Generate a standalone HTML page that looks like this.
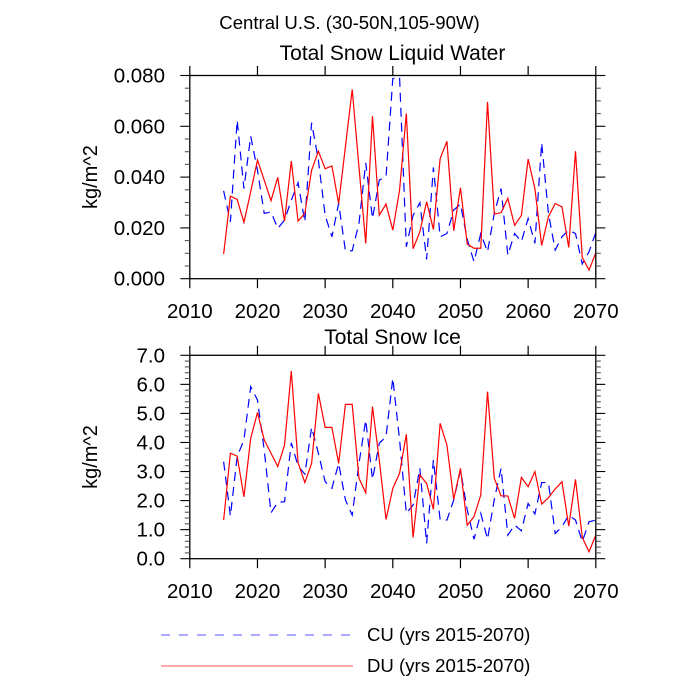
<!DOCTYPE html>
<html><head><meta charset="utf-8">
<style>
html,body{margin:0;padding:0;background:#fff;}
svg{display:block;font-family:"Liberation Sans",Arial,sans-serif;}
</style></head>
<body>
<svg id="chart" width="700" height="700" viewBox="0 0 700 700" xmlns="http://www.w3.org/2000/svg">
<text x="349.5" y="29" font-size="18.6" text-anchor="middle" fill="#000">Central U.S. (30-50N,105-90W)</text>
<text x="392.5" y="60" font-size="21" text-anchor="middle" fill="#000">Total Snow Liquid Water</text>
<text x="392.5" y="344" font-size="21" text-anchor="middle" fill="#000">Total Snow Ice</text>
<g id="top"></g>
<g id="bot"></g>
<g>
<line x1="161" y1="635" x2="353" y2="635" stroke="#7777ff" stroke-width="1.2" stroke-dasharray="9,9"/>
<text x="367" y="641" font-size="18.6" fill="#000">CU (yrs 2015-2070)</text>
<line x1="161" y1="666" x2="353" y2="666" stroke="#ff7777" stroke-width="1.2"/>
<text x="367" y="672" font-size="18.6" fill="#000">DU (yrs 2015-2070)</text>
</g>
</svg>
<script>
const years = [];
for (let y = 2015; y <= 2070; y++) years.push(y);
const swlDU = [0.0097,0.0325,0.0312,0.0222,0.0342,0.0467,0.0388,0.0307,0.0399,0.0227,0.0463,0.0227,0.0257,0.0427,0.0502,0.0433,0.0444,0.0296,0.052,0.0745,0.044,0.0139,0.064,0.025,0.0294,0.0191,0.0349,0.065,0.0118,0.0185,0.0303,0.0194,0.0473,0.0541,0.0189,0.0358,0.0136,0.012,0.012,0.0696,0.0254,0.026,0.0316,0.021,0.0249,0.0471,0.0355,0.0131,0.0244,0.0296,0.0283,0.0123,0.0502,0.0084,0.0034,0.0102];
const swlCU = [0.0346,0.0224,0.0624,0.0355,0.0561,0.0427,0.0257,0.0263,0.0198,0.0231,0.0309,0.0378,0.0224,0.0614,0.0467,0.025,0.0165,0.0296,0.011,0.011,0.0218,0.0456,0.0237,0.0388,0.0401,0.0788,0.0794,0.0126,0.025,0.0299,0.0076,0.0438,0.0165,0.0178,0.027,0.0294,0.0155,0.0067,0.0178,0.0106,0.0257,0.0355,0.0093,0.0178,0.0146,0.0237,0.0139,0.0535,0.0257,0.0113,0.0165,0.0191,0.0178,0.0058,0.0106,0.0182];
const iceDU = [1.33,3.63,3.53,2.13,4.14,5.03,4.09,3.63,3.17,3.91,6.46,3.30,2.62,3.28,5.69,4.52,4.52,3.28,5.31,5.31,2.77,2.27,5.23,3.40,1.35,2.42,2.94,4.28,0.73,2.88,2.59,1.70,4.66,3.91,2.04,3.11,1.15,1.45,2.19,5.75,2.77,2.16,2.16,1.39,2.80,2.48,3.00,1.88,2.10,2.40,2.65,1.12,2.73,0.73,0.24,0.81];
const iceCU = [3.34,1.47,3.51,4.09,5.92,5.46,3.74,1.58,1.94,1.96,3.99,3.19,2.91,4.52,3.63,2.65,2.42,3.28,2.02,1.50,3.28,4.77,2.73,3.97,4.20,6.21,4.09,1.56,1.85,3.11,0.53,3.40,1.33,1.33,2.02,3.05,1.68,0.67,1.56,0.67,2.04,3.11,0.81,1.16,0.96,1.90,1.54,2.62,2.62,0.87,1.10,1.50,1.33,0.59,1.27,1.33];
const xTicks = [2010,2020,2030,2040,2050,2060,2070];
const topYTicks = [0,0.02,0.04,0.06,0.08];
const topYLabels = ["0.000","0.020","0.040","0.060","0.080"];
const botYTicks = [0,1,2,3,4,5,6,7];
const botYLabels = ["0.0","1.0","2.0","3.0","4.0","5.0","6.0","7.0"];

const NS = "http://www.w3.org/2000/svg";
const L = 189.8, R = 595.8;
function mk(tag, attrs, parent) {
  const e = document.createElementNS(NS, tag);
  for (const k in attrs) e.setAttribute(k, attrs[k]);
  parent.appendChild(e);
  return e;
}
function panel(g, top, bot, ymax, ticks, labels, minorStep, du, cu, prefix) {
  const xs = v => L + (v - 2010) / 60 * (R - L);
  const ys = v => bot - v / ymax * (bot - top);
  const ax = "#000";
  const ptsCU = years.map((y, i) => xs(y).toFixed(2) + "," + ys(cu[i]).toFixed(2)).join(" ");
  const ptsDU = years.map((y, i) => xs(y).toFixed(2) + "," + ys(du[i]).toFixed(2)).join(" ");
  const pc = mk("polyline", {points: ptsCU, fill: "none", stroke: "#0000ff", "stroke-width": 1.2, "stroke-dasharray": "9,6"}, g);
  
  
  const pd = mk("polyline", {points: ptsDU, fill: "none", stroke: "#ff0000", "stroke-width": 1.2}, g);
  
  
  const fr = mk("rect", {x: L, y: top, width: R - L, height: bot - top, fill: "none", stroke: ax, "stroke-width": 1.3}, g);
  
  
  xTicks.forEach(t => {
    const x = xs(t);
    mk("line", {x1: x, y1: top, x2: x, y2: top - 9.5, stroke: ax, "stroke-width": 1.2}, g);
    mk("line", {x1: x, y1: bot, x2: x, y2: bot + 9.5, stroke: ax, "stroke-width": 1.2}, g);
    const tx = mk("text", {x: x, y: bot + 39.5, "font-size": 20.5, "text-anchor": "middle", fill: "#000"}, g);
    tx.textContent = t;
    
    
  });
  for (let v = 0; v <= ymax + 1e-9; v += minorStep) {
    const y = ys(v);
    const major = ticks.some(t => Math.abs(t - v) < minorStep / 10);
    const len = major ? 9.5 : 5;
    mk("line", {x1: L, y1: y, x2: L - len, y2: y, stroke: major ? ax : "#555", "stroke-width": 1.1}, g);
    mk("line", {x1: R, y1: y, x2: R + len, y2: y, stroke: major ? ax : "#555", "stroke-width": 1.1}, g);
  }
  ticks.forEach((t, i) => {
    const tl = mk("text", {x: 165, y: ys(t) + 7, "font-size": 20.5, "text-anchor": "end", fill: "#000"}, g);
    tl.textContent = labels[i];
    
    
  });
  const cy = (top + bot) / 2;
  const yt = mk("text", {x: 0, y: 0, "font-size": 20, "text-anchor": "middle", fill: "#000", transform: "translate(97," + cy + ") rotate(-90)"}, g);
  yt.textContent = "kg/m^2";
  
  
}
panel(document.getElementById("top"), 75.5, 278.7, 0.08, topYTicks, topYLabels, 0.005, swlDU, swlCU, "top");
panel(document.getElementById("bot"), 355.3, 558.7, 7, botYTicks, botYLabels, 0.2, iceDU, iceCU, "bottom");
</script>
</body></html>
